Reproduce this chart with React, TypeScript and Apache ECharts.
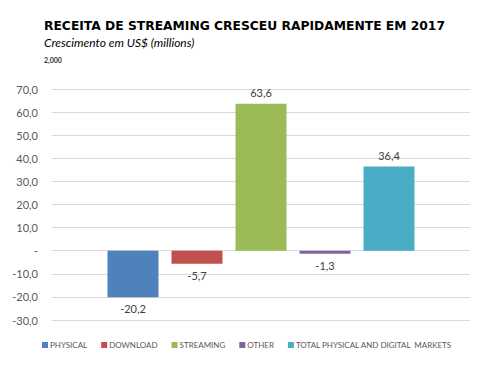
import React, { useEffect, useRef } from "react";
import * as echarts from "echarts";

const seriesNames = ["PHYSICAL", "DOWNLOAD", "STREAMING", "OTHER", "TOTAL PHYSICAL AND DIGITAL  MARKETS"];
const seriesValues = [-20.2, -5.7, 63.6, -1.3, 36.4];
const seriesColors = ["#4F81BD", "#C0504D", "#9BBB59", "#8064A2", "#4BACC6"];
const categories = ["2017"];
const titleText = "RECEITA DE STREAMING CRESCEU RAPIDAMENTE EM 2017";
const subtitleText = "Crescimento em US$ (millions)";
const noteText = "2,000";

const fmt = (v: number) => (v === 0 ? "-" : v.toFixed(1).replace(".", ","));

export default function App() {
  const ref = useRef<HTMLDivElement>(null);
  useEffect(() => {
    if (!ref.current) return;
    const chart = echarts.init(ref.current, null, { renderer: "svg" });
    chart.setOption({
      animation: false,
      backgroundColor: "#ffffff",
      title: [
        {
          text: titleText,
          left: 44,
          top: 20,
          padding: 0,
          textStyle: { fontFamily: "DejaVu Sans", fontWeight: 900, fontSize: 12.3, color: "#000" },
        },
        {
          text: subtitleText,
          left: 44,
          top: 36,
          padding: 0,
          textStyle: { fontFamily: "Lato", fontStyle: "italic", fontWeight: "normal", fontSize: 12, color: "#000" },
        },
        {
          text: noteText,
          left: 44,
          top: 56,
          padding: 0,
          textStyle: { fontFamily: "Lato", fontWeight: "bold", fontSize: 7, color: "#333" },
        },
      ],
      legend: {
        left: 42,
        top: 341,
        width: 430,
        padding: 0,
        itemWidth: 6,
        itemHeight: 6,
        itemGap: 14,
        icon: "rect",
        textStyle: { fontFamily: "Lato", fontSize: 8, color: "#595959", padding: [0, 0, 0, -3] },
        data: seriesNames,
      },
      grid: { left: 52, right: 7, top: 89, bottom: 52, containLabel: false },
      xAxis: {
        type: "category",
        data: categories,
        axisLine: { show: false },
        axisTick: { show: false },
        axisLabel: { show: false },
      },
      yAxis: {
        type: "value",
        min: -30,
        max: 70,
        interval: 10,
        axisLine: { show: false },
        axisTick: { show: false },
        splitLine: { lineStyle: { color: "#d9d9d9", width: 1 } },
        axisLabel: {
          formatter: fmt,
          margin: 14,
          fontFamily: "Lato",
          fontSize: 11,
          color: "#595959",
        },
      },
      series: seriesNames.map((name, i) => ({
        name,
        type: "bar",
        data: [seriesValues[i]],
        barWidth: 51,
        barGap: "25.5%",
        itemStyle: { color: seriesColors[i] },
        label: {
          show: true,
          position: "outside",
          distance: 6,
          formatter: (p: any) => fmt(p.value),
          fontFamily: "Lato",
          fontSize: 11,
          color: "#404040",
        },
      })),
    });
    return () => chart.dispose();
  }, []);
  return <div ref={ref} style={{ width: 477, height: 372, position: "absolute", left: 0, top: 0 }} />;
}
